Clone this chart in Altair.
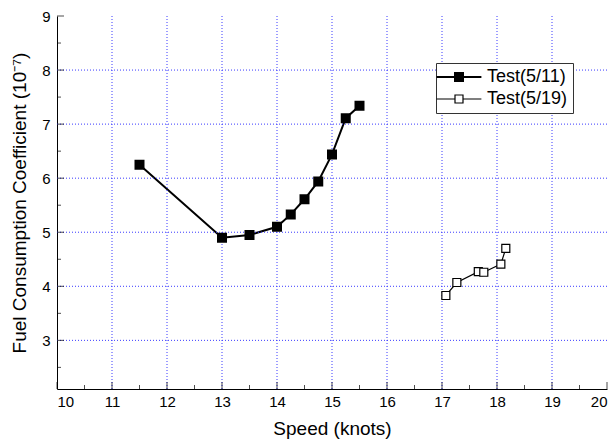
import altair as alt
import pandas as pd

# ---- data ----
speed_511 = [11.5, 13.0, 13.5, 14.0, 14.25, 14.5, 14.75, 15.0, 15.25, 15.5]
fcc_511 = [6.25, 4.90, 4.95, 5.10, 5.33, 5.61, 5.94, 6.44, 7.11, 7.34]
speed_519 = [17.07, 17.27, 17.66, 17.76, 18.07, 18.16]
fcc_519 = [3.83, 4.07, 4.27, 4.26, 4.41, 4.70]
series_names = ["Test(5/11)", "Test(5/19)"]

x_ticks = [10, 11, 12, 13, 14, 15, 16, 17, 18, 19, 20]
x_minor = [10.5, 11.5, 12.5, 13.5, 14.5, 15.5, 16.5, 17.5, 18.5, 19.5]
y_ticks = [3, 4, 5, 6, 7, 8, 9]
y_minor = [2.5, 3.5, 4.5, 5.5, 6.5, 7.5, 8.5]
x_grid = [11, 12, 13, 14, 15, 16, 17, 18, 19]
y_grid = [3, 4, 5, 6, 7, 8]
X_DOMAIN = [10, 20]
Y_DOMAIN = [2.1, 9]

W, H = 550, 373
FONT = "Liberation Sans"

df = pd.DataFrame({
    "speed": speed_511 + speed_519,
    "fcc": fcc_511 + fcc_519,
    "series": [series_names[0]] * len(speed_511) + [series_names[1]] * len(speed_519),
})

xs = alt.Scale(domain=X_DOMAIN, nice=False, zero=False)
ys = alt.Scale(domain=Y_DOMAIN, nice=False, zero=False)
sw_scale = alt.Scale(domain=series_names, range=[2, 1.2])

x_enc = alt.X("speed:Q", scale=xs, axis=alt.Axis(
    values=x_ticks, title="Speed (knots)", grid=False, ticks=False,
    domainColor="black", labelPadding=5, titlePadding=10, format="d"))
y_enc = alt.Y("fcc:Q", scale=ys, axis=alt.Axis(
    values=y_ticks, title="Fuel Consumption Coefficient (10⁻⁷)", grid=False, ticks=False,
    domainColor="black", labelPadding=7, titlePadding=12, format="d"))

grid_color = "#3a3aff"
xgrid = alt.Chart(pd.DataFrame({"gx": x_grid})).mark_rule(
    color=grid_color, strokeDash=[1, 2], strokeWidth=1).encode(
    x=alt.X("gx:Q", scale=xs))
ygrid = alt.Chart(pd.DataFrame({"gy": y_grid})).mark_rule(
    color=grid_color, strokeDash=[1, 2], strokeWidth=1).encode(
    y=alt.Y("gy:Q", scale=ys))

lines = alt.Chart(df).mark_line(color="black").encode(
    x=x_enc, y=y_enc, detail="series:N",
    strokeWidth=alt.StrokeWidth("series:N", scale=sw_scale, title=None),
)

legend_path = "M-5.6,0H-1M1,0H5.6M-1,-1H1V1H-1Z"
leg = alt.Legend(
    title=None, orient="none", legendX=379, legendY=47,
    symbolType=legend_path, symbolSize=64,
    symbolStrokeColor="black",
    symbolOffset=9, labelOffset=19,
    labelFont=FONT, labelFontSize=18, labelColor="black",
    strokeColor="#333333", fillColor="white", padding=5, rowPadding=4,
)
points = alt.Chart(df).mark_square(size=64, stroke="black", opacity=1).encode(
    x="speed:Q", y="fcc:Q",
    fill=alt.Fill("series:N", scale=alt.Scale(domain=series_names, range=["black", "white"]),
                  title=None, legend=leg),
    strokeWidth=alt.StrokeWidth("series:N", scale=sw_scale, title=None, legend=leg),
)

tx = alt.Chart(pd.DataFrame({"tx": x_ticks})).mark_tick(
    orient="vertical", color="black", thickness=1, size=7).encode(
    x=alt.X("tx:Q", scale=xs), y=alt.value(H - 3.5))
tx2 = alt.Chart(pd.DataFrame({"tx2": x_minor})).mark_tick(
    orient="vertical", color="black", thickness=1, size=4).encode(
    x=alt.X("tx2:Q", scale=xs), y=alt.value(H - 2))
ty = alt.Chart(pd.DataFrame({"ty": y_ticks})).mark_tick(
    orient="horizontal", color="black", thickness=1, size=7).encode(
    y=alt.Y("ty:Q", scale=ys), x=alt.value(3.5))
ty2 = alt.Chart(pd.DataFrame({"ty2": y_minor})).mark_tick(
    orient="horizontal", color="black", thickness=1, size=4).encode(
    y=alt.Y("ty2:Q", scale=ys), x=alt.value(2))

chart = alt.layer(lines, xgrid, ygrid, points, tx, tx2, ty, ty2).properties(
    width=W, height=H,
    autosize=alt.AutoSizeParams(type="none"),
    padding={"left": 57, "top": 16, "right": 7, "bottom": 57},
    background="white",
).configure_view(stroke=None).configure_axis(
    labelFont=FONT, labelFontSize=15, labelColor="black",
    titleFont=FONT, titleFontSize=19, titleFontWeight="normal", titleColor="black",
    domainWidth=1,
)

chart.save("out.html", embed_options={"renderer": "svg", "actions": False})
